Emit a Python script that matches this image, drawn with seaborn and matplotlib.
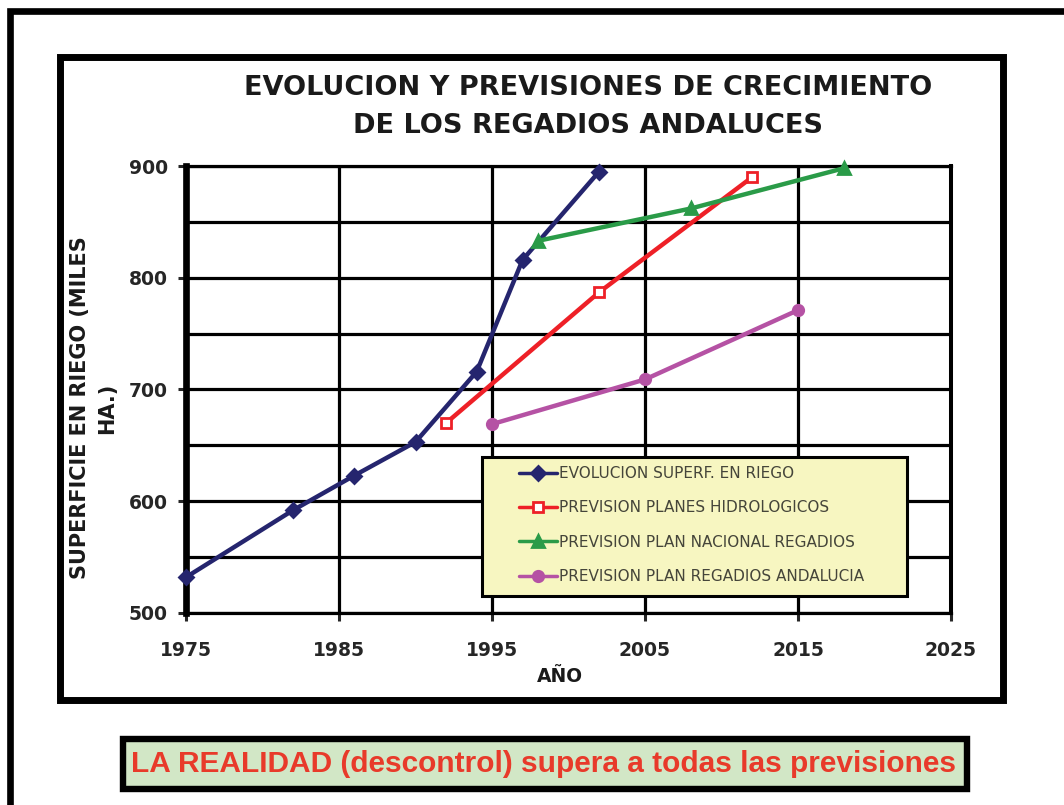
import pandas as pd
import numpy as np
import matplotlib
matplotlib.use("Agg")
import matplotlib.pyplot as plt
import seaborn as sns
from matplotlib.patches import Rectangle
from matplotlib.lines import Line2D

# --------------------------------------------
# Data
# --------------------------------------------
evol_years = [1975, 1982, 1986, 1990, 1994, 1997, 2002]
evol_values = [532, 592, 623, 653, 716, 816, 895]

hidro_years = [1992, 2002, 2012]
hidro_values = [670, 787, 890]

nacional_years = [1998, 2008, 2018]
nacional_values = [833, 862, 898]

andalucia_years = [1995, 2005, 2015]
andalucia_values = [669, 709, 771]

series_names = [
    "EVOLUCION SUPERF. EN RIEGO",
    "PREVISION PLANES HIDROLOGICOS",
    "PREVISION PLAN NACIONAL REGADIOS",
    "PREVISION PLAN REGADIOS ANDALUCIA",
]
x_ticks = [1975, 1985, 1995, 2005, 2015, 2025]
y_ticks = [500, 600, 700, 800, 900]

title_lines = ["EVOLUCION Y PREVISIONES DE CRECIMIENTO", "DE LOS REGADIOS ANDALUCES"]
x_label = "AÑO"
y_label = "SUPERFICIE EN RIEGO (MILES\nHA.)"
footer = "LA REALIDAD (descontrol) supera a todas las previsiones"

df = pd.concat([
    pd.DataFrame({"year": evol_years, "value": evol_values, "series": series_names[0]}),
    pd.DataFrame({"year": hidro_years, "value": hidro_values, "series": series_names[1]}),
    pd.DataFrame({"year": nacional_years, "value": nacional_values, "series": series_names[2]}),
    pd.DataFrame({"year": andalucia_years, "value": andalucia_values, "series": series_names[3]}),
], ignore_index=True)

# styles per series
colors = ["#25256E", "#EE2027", "#2A9B48", "#B552A4"]
markers = ["D", "s", "^", "o"]
face = ["#25256E", "white", "#2A9B48", "#B552A4"]
msizes = [7.5, 7.5, 8.5, 7.5]

# --------------------------------------------
# Figure
# --------------------------------------------
sns.set_style("white")
plt.rcParams["font.family"] = ["DejaVu Sans"]

W, H = 1064, 805
fig = plt.figure(figsize=(W / 100, H / 100), dpi=100)

def fx(px):
    return px / W

def fy(py):
    return 1 - py / H

# outer frame and inner chart box
fig.add_artist(Rectangle((fx(9.5), fy(900)), fx(1200), (900 - 11) / H,
                         transform=fig.transFigure, fill=False, lw=4.8,
                         edgecolor="black", zorder=0.5))
fig.add_artist(Rectangle((fx(59.5), fy(700)), (1002.5 - 59.5) / W, (700 - 57.5) / H,
                         transform=fig.transFigure, fill=False, lw=5,
                         edgecolor="black", zorder=0.5))

ax = fig.add_axes([fx(186), fy(613), (951 - 186) / W, (613 - 166) / H])

for i, name in enumerate(series_names):
    sub = df[df["series"] == name]
    sns.lineplot(data=sub, x="year", y="value", ax=ax, color=colors[i],
                 marker=markers[i], markersize=msizes[i],
                 markerfacecolor=face[i], markeredgecolor=colors[i],
                 markeredgewidth=2, linewidth=3.2, sort=False,
                 legend=False, clip_on=False, zorder=3)

ax.set_xlim(1975, 2025)
ax.set_ylim(500, 900)
ax.set_xticks(x_ticks)
ax.set_yticks(y_ticks)
ax.set_yticks([550, 650, 750, 850], minor=True)
ax.grid(True, which="major", axis="both", color="black", lw=2.3)
ax.grid(True, which="minor", axis="y", color="black", lw=2.3)
ax.set_axisbelow(True)

for side in ["top", "bottom"]:
    ax.spines[side].set_linewidth(2.3)
ax.spines["left"].set_linewidth(4.8)
ax.spines["right"].set_linewidth(2.9)
for s in ax.spines.values():
    s.set_color("black")

ax.tick_params(axis="y", which="major", direction="out", length=6, width=2.2,
               pad=7, labelsize=13.5, left=True)
ax.tick_params(axis="y", which="minor", length=0)
ax.tick_params(axis="x", direction="out", length=6, width=2.2,
               pad=14, labelsize=13.5, bottom=True)
for lab in ax.get_xticklabels() + ax.get_yticklabels():
    lab.set_fontweight("bold")
ax.set_xlabel("")
ax.set_ylabel("")

# titles and axis labels
fig.text(fx(588), fy(88), title_lines[0], ha="center", va="center",
         fontsize=19.5, fontweight="bold", color="#1a1a1a")
fig.text(fx(588), fy(126), title_lines[1], ha="center", va="center",
         fontsize=19.5, fontweight="bold", color="#1a1a1a")
fig.text(fx(560), fy(676), x_label, ha="center", va="center",
         fontsize=13.5, fontweight="bold", color="#1a1a1a")
fig.text(fx(94), fy(408), y_label, ha="center", va="center", rotation=90,
         multialignment="center", linespacing=1.45,
         fontsize=15, fontweight="bold", color="#1a1a1a")

# legend box
fig.add_artist(Rectangle((fx(481.5), fy(596)), (906.5 - 481.5) / W, (596 - 456.5) / H,
                         transform=fig.transFigure, facecolor="#F7F6C1",
                         edgecolor="black", lw=2.2, zorder=2))
handles = [Line2D([], [], color=colors[i], marker=markers[i], markersize=msizes[i],
                  markerfacecolor=face[i], markeredgecolor=colors[i],
                  markeredgewidth=2, lw=2.5) for i in range(4)]
fig.legend(handles, series_names, loc="upper left",
           bbox_to_anchor=(fx(519), fy(466)), frameon=False,
           fontsize=11, labelcolor="#45453a", handlelength=2.5,
           handletextpad=0.1, labelspacing=1.27, borderpad=0, borderaxespad=0)

# footer box
fig.text(fx(543.5), fy(764), footer, ha="center", va="center",
         fontsize=21.5, fontweight="bold", color="#E83A2A",
         family=["Liberation Sans", "DejaVu Sans"])
fig.add_artist(Rectangle((fx(122.5), fy(789)), (967 - 122.5) / W, (789 - 739) / H,
                         transform=fig.transFigure, facecolor="#D2E7C6",
                         edgecolor="black", lw=4.6, zorder=0.4))

fig.savefig("out.png", dpi=100)
